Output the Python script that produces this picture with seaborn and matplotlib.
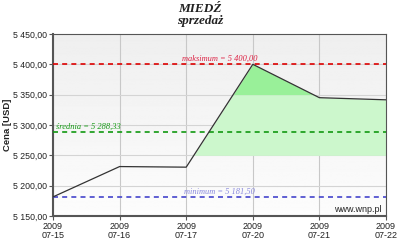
import numpy as np
import pandas as pd
import matplotlib
matplotlib.use("Agg")
import matplotlib.pyplot as plt
import seaborn as sns

dates = ["07-15", "07-16", "07-17", "07-20", "07-21", "07-22"]
years = ["2009"] * 6
prices = [5181.5, 5231.5, 5230.5, 5400.0, 5345.0, 5341.5]
y_ticks = [5150, 5200, 5250, 5300, 5350, 5400, 5450]
fill_base = 5250
fill_upper = 5350

sns.set_theme(style="white")
plt.rcParams['font.family'] = ['Liberation Sans', 'DejaVu Sans']

df = pd.DataFrame({"x": np.arange(len(dates)), "price": prices})
vmax = max(prices); vmin = min(prices); vmean = float(np.mean(prices))

fig = plt.figure(figsize=(4.0, 2.48), dpi=100)
ax = fig.add_axes([0.1325, 0.129, 0.8325, 0.734])

# gradient background
grad = np.linspace(0.99, 0.935, 256).reshape(-1, 1)
ax.imshow(grad, cmap="gray", vmin=0, vmax=1, aspect="auto",
          extent=[0, len(dates) - 1, 5150, 5450], origin="lower", zorder=0)

ax.set_xlim(0, len(dates) - 1)
ax.set_ylim(5150, 5450)

for xv in df["x"]:
    ax.axvline(xv, color="#c8c8c8", lw=0.8, zorder=1)
for yv in y_ticks[1:-1]:
    ax.axhline(yv, color="#d4d4d4", lw=0.8, zorder=1)

xs = np.linspace(0, len(dates) - 1, 1000)
ys = np.interp(xs, df["x"], df["price"])
ax.fill_between(xs, fill_base, np.minimum(ys, fill_upper), where=ys > fill_base,
                color="#ccf7cc", lw=0, zorder=2)
ax.fill_between(xs, fill_upper, ys, where=ys > fill_upper,
                color="#99f099", lw=0, zorder=2)

sns.lineplot(data=df, x="x", y="price", ax=ax, color="#333333", lw=0.9, zorder=4)

ax.axhline(vmax, color="#dd0000", ls=(0, (3, 2.5)), lw=1.2, zorder=3)
ax.axhline(vmean, color="#119911", ls=(0, (3, 2.5)), lw=1.2, zorder=3)
ax.axhline(vmin, color="#4444cc", ls=(0, (3, 2.5)), lw=1.2, zorder=3)

def pl(v):
    return f"{v:,.2f}".replace(",", " ").replace(".", ",")

serif = ['Liberation Serif', 'DejaVu Serif']
ax.text(2.5, vmax + 2, f"maksimum = {pl(vmax)}", color="#dd2244", fontsize=6,
        style="italic", family=serif, ha="center", va="bottom", zorder=5)
ax.text(0.05, vmean + 2, f"średnia = {pl(vmean)}", color="#119911", fontsize=6,
        style="italic", family=serif, ha="left", va="bottom", zorder=5)
ax.text(2.5, vmin + 2, f"minimum = {pl(vmin)}", color="#8888dd", fontsize=6,
        style="italic", family=serif, ha="center", va="bottom", zorder=5)
ax.text(4.93, 5160, "www.wnp.pl", color="#222222", fontsize=6.5,
        ha="right", va="center", zorder=5)

ax.set_xticks(df["x"])
ax.set_xticklabels([f"{y}\n{d}" for y, d in zip(years, dates)], fontsize=6.5,
                   color="#222222", linespacing=1.1)
ax.set_yticks(y_ticks)
ax.set_yticklabels([pl(v) for v in y_ticks], fontsize=6.3, color="#222222")
ax.tick_params(axis="both", length=3, width=0.8, color="#555555", pad=1,
               bottom=True, left=True)
ax.set_xlabel("")
ax.set_ylabel("Cena [USD]", fontsize=6.8, fontweight="bold", color="#222222", labelpad=1)

for side in ["left", "bottom"]:
    ax.spines[side].set_color("#555555"); ax.spines[side].set_linewidth(1.5)
for side in ["top", "right"]:
    ax.spines[side].set_color("#555555"); ax.spines[side].set_linewidth(0.8)

fig.text(0.5, 0.952, "MIEDŹ", ha="center", va="baseline", fontsize=9.5,
         fontweight="bold", style="italic", family=serif, color="#222222")
fig.text(0.5, 0.903, "sprzedaż", ha="center", va="baseline", fontsize=9.5,
         fontweight="bold", style="italic", family=serif, color="#222222")

fig.savefig("out.png", dpi=100)
